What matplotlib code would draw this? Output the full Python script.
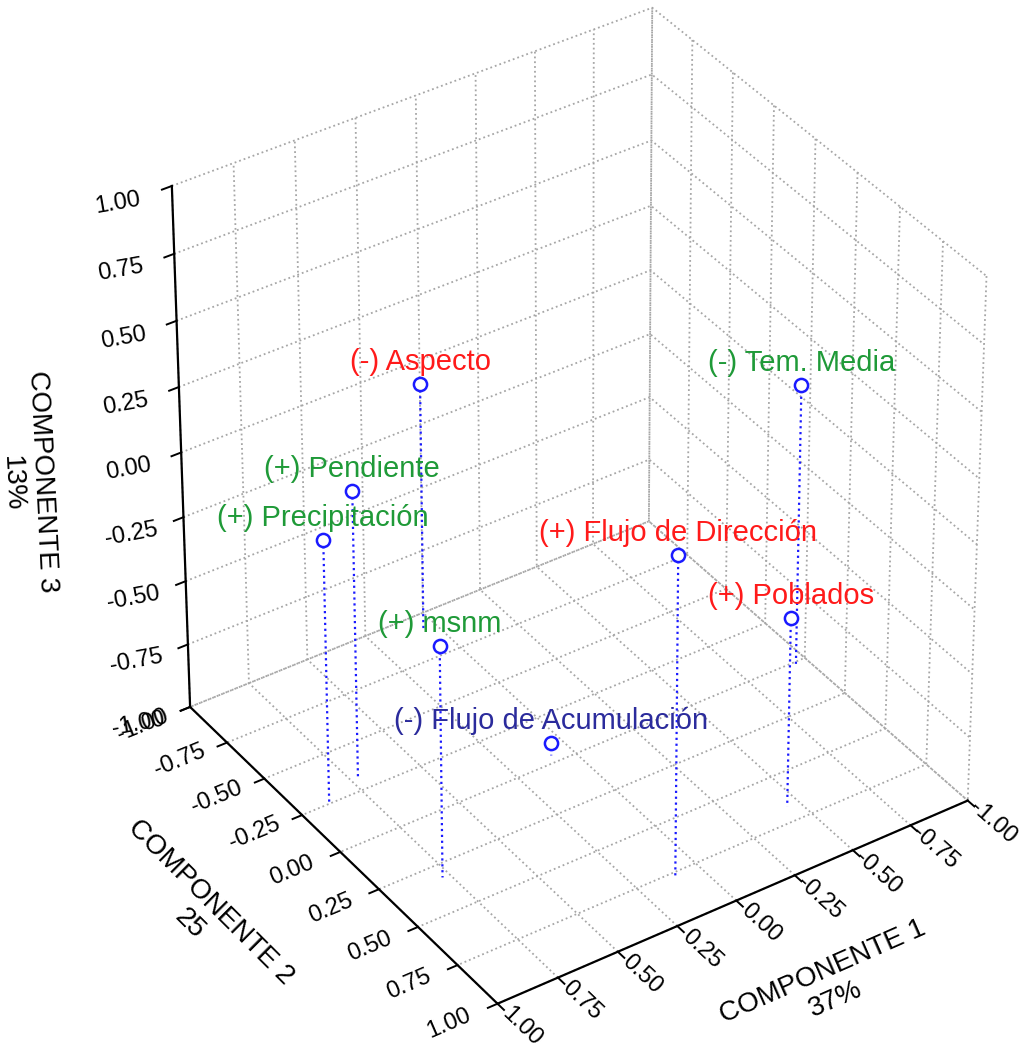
import numpy as np
import matplotlib.pyplot as plt
from matplotlib.transforms import offset_copy

plt.rcParams['font.family'] = ['Liberation Sans', 'DejaVu Sans']
plt.rcParams['axes.unicode_minus'] = False
plt.rcParams['grid.color'] = '#a6a6a6'
plt.rcParams['grid.linestyle'] = ':'
plt.rcParams['grid.linewidth'] = 1.3

# loadings of each variable on the first three components
variables = ["(-) Aspecto", "(-) Tem. Media", "(+) Pendiente", "(+) Precipitación",
             "(+) Flujo de Dirección", "(+) Poblados", "(+) msnm",
             "(-) Flujo de Acumulación"]
comp1 = [0.05, -0.95, 0.72, 0.88, 0.10, -0.45, 0.78, 0.08]
comp2 = [-0.92, 0.015, -0.32, -0.26, 0.77, 0.67, 0.32, -0.04]
comp3 = [-0.035, 0.10, 0.115, 0.02, 0.24, -0.26, -0.10, -0.95]
label_colors = ["#ff1a1a", "#1f9a38", "#1f9a38", "#1f9a38",
                "#ff1a1a", "#ff1a1a", "#1f9a38", "#2b2b9c"]
ticks = np.arange(-1.0, 1.01, 0.25)
tick_text = ["%.2f" % t for t in ticks]

fig = plt.figure(figsize=(10.25, 10.5), dpi=100)
ax = fig.add_axes([0.0485, 0.0124, 1.0, 1.0], projection='3d')
ax.set_proj_type('persp', focal_length=1.5)
ax.view_init(elev=36.5, azim=56)
ax.set_box_aspect((1, 1, 1.134), zoom=0.984)

ax.set_xlim(-1, 1)
ax.set_ylim(-1, 1)
ax.set_zlim(-1, 1)
ax.set_xticks(ticks)
ax.set_yticks(ticks)
ax.set_zticks(ticks)
ax.set_xticklabels([])
ax.set_yticklabels([])
ax.set_zticklabels([])
for axis in (ax.xaxis, ax.yaxis, ax.zaxis):
    axis.set_pane_color((1, 1, 1, 0))
    axis.pane.set_edgecolor('none')
    axis.line.set_color('black')
    axis.line.set_linewidth(1.6)
    axis._axinfo['tick']['inward_factor'] = 0.25
    axis._axinfo['tick']['outward_factor'] = 0.0
    axis._axinfo['tick']['linewidth'] = {True: 1.4, False: 1.0}

# tick labels just outside the three axis lines, slanted like the box edges
for t, s in zip(ticks, tick_text):
    ax.text(t, 1.15, -1.0, s, zdir='y', fontsize=17, ha='center', va='center')
    ax.text(1.2, t, -0.995, s, zdir='x', fontsize=17, ha='center', va='center')
    ax.text(1.19, -1.045, t - 0.02, s, zdir=(-1, 0.3, 0), fontsize=17,
            ha='center', va='center')

ax.text(0.0, 1.56, -1.0, "COMPONENTE 1\n37%", zdir='x', fontsize=20,
        ha='center', va='center', multialignment='center')
ax.text(1.58, 0.0, -1.01, "COMPONENTE 2\n25", zdir='y', fontsize=20,
        ha='center', va='center', multialignment='center')
ax.text(1.45, -1.31, -0.12, "COMPONENTE 3\n13%", zdir='z', fontsize=20,
        ha='center', va='center', multialignment='center')

# drop lines down to the floor
for x, y, z in zip(comp1, comp2, comp3):
    ax.plot([x, x], [y, y], [z, -1], linestyle=':', color='#1a1aff', linewidth=1.6)

ax.scatter(comp1, comp2, comp3, s=90, facecolors='white', edgecolors='#1a1aff',
           linewidths=1.8, depthshade=False, zorder=5)

above = offset_copy(ax.transData, fig=fig, y=6, units='points')
for name, x, y, z, c in zip(variables, comp1, comp2, comp3, label_colors):
    ax.text(x, y, z, name, color=c, fontsize=21, ha='center', va='bottom',
            transform=above)

fig.savefig("out.png", dpi=100)
